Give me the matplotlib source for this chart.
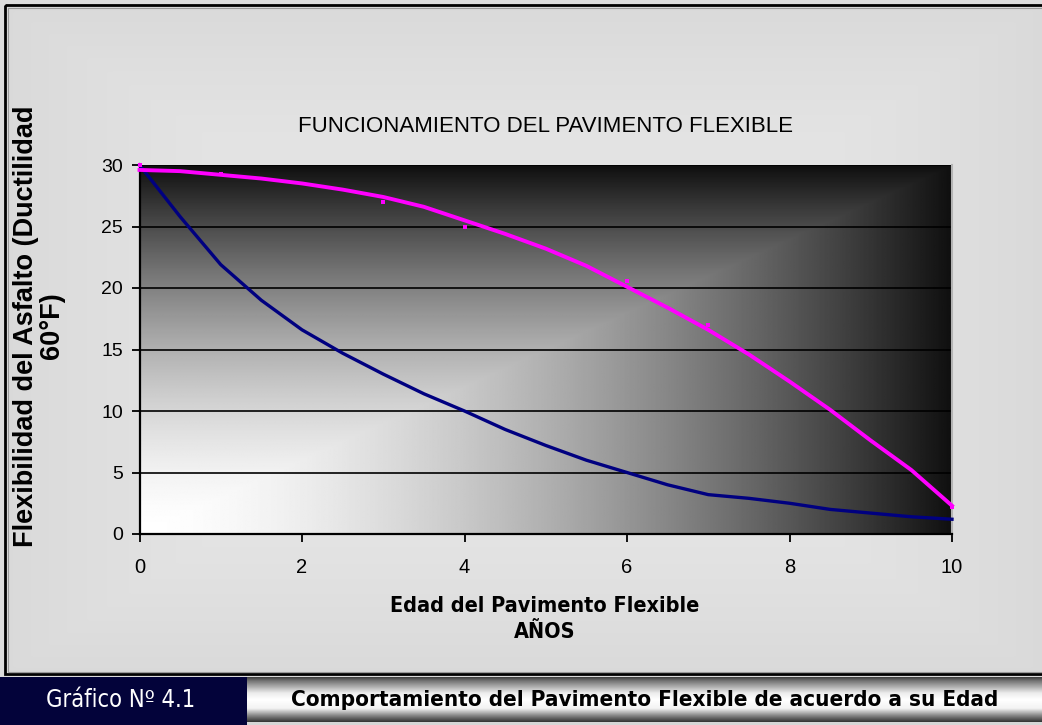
import numpy as np
import matplotlib
matplotlib.use("Agg")
import matplotlib.pyplot as plt
from matplotlib.patches import Rectangle

# ---- data -------------------------------------------------------------
years = [0, 0.5, 1, 1.5, 2, 2.5, 3, 3.5, 4, 4.5, 5, 5.5, 6, 6.5, 7, 7.5,
         8, 8.5, 9, 9.5, 10]
# blue series
ductility_a = [30.0, 25.8, 21.9, 19.0, 16.6, 14.7, 13.0, 11.4, 10.0, 8.5,
               7.2, 6.0, 5.0, 4.0, 3.2, 2.9, 2.5, 2.0, 1.7, 1.4, 1.2]
# magenta trend
ductility_b = [29.6, 29.5, 29.2, 28.9, 28.5, 28.0, 27.4, 26.6, 25.5, 24.4,
               23.2, 21.8, 20.1, 18.4, 16.6, 14.6, 12.4, 10.1, 7.6, 5.2, 2.3]
# magenta measured points
obs_years = [0, 1, 3, 4, 6, 7, 10]
obs_ductility = [30.0, 29.3, 27.0, 25.0, 20.6, 17.0, 2.2]

x_ticks = [0, 2, 4, 6, 8, 10]
y_ticks = [0, 5, 10, 15, 20, 25, 30]

title = "FUNCIONAMIENTO DEL PAVIMENTO FLEXIBLE"
y_label = "Flexibilidad del Asfalto (Ductilidad\n60°F)"
x_label = "Edad del Pavimento Flexible\nAÑOS"
caption_left = "Gráfico Nº 4.1"
caption_right = "Comportamiento del Pavimento Flexible de acuerdo a su Edad"

W, H = 1042, 725
fig = plt.figure(figsize=(W / 100, H / 100), dpi=100)
fig.patch.set_facecolor("#dcdcdc")

ARIAL = ["Liberation Sans", "DejaVu Sans"]

# ---- page layer in pixel coordinates ----------------------------------
bg = fig.add_axes([0, 0, 1, 1], zorder=0)
bg.set_xlim(0, W)
bg.set_ylim(H, 0)
bg.axis("off")

# soft panel shading inside the frame
gx = np.linspace(-1, 1, 300)
gy = np.linspace(-1, 1, 200)
GX, GY = np.meshgrid(gx, gy)
panel = 0.85 + 0.06 * (1 - np.maximum(np.abs(GX), np.abs(GY)) ** 2)
bg.imshow(panel, cmap="gray", vmin=0, vmax=1, extent=(5, W, 674, 5),
          aspect="auto", zorder=0, interpolation="bilinear")
bg.add_patch(Rectangle((5, 5), W + 10, 669, fill=False, ec="black",
                       lw=2.0, zorder=2))
bg.add_patch(Rectangle((7.5, 7.5), W + 10, 664, fill=False, ec="#9a9a9a",
                       lw=0.8, zorder=2))

# caption banner
bg.add_patch(Rectangle((0, 677), 247, H - 677, fc="#03033a", ec="none",
                       zorder=2))
rows = np.linspace(0, 1, 100)
profile = np.interp(rows, [0, 0.08, 0.35, 0.5, 0.7, 0.85, 1.0],
                    [0.25, 0.45, 0.92, 1.0, 0.95, 0.55, 0.2])
bar = np.tile(profile[:, None], (1, 10))
bg.imshow(bar, cmap="gray", vmin=0, vmax=1, extent=(247, W, 722, 677),
          aspect="auto", zorder=2, interpolation="bilinear")
bg.add_patch(Rectangle((247, 722), W, 3, fc="#d6d6d6", ec="none", zorder=2))
bg.text(121, 700, caption_left, color="white", fontsize=17,
        family="DejaVu Sans", fontstretch="condensed",
        ha="center", va="center", zorder=3)
bg.text(645, 700, caption_right, color="black", fontsize=16.1,
        family="DejaVu Sans", fontstretch="condensed", fontweight="bold",
        ha="center", va="center", zorder=3)

# ---- chart ------------------------------------------------------------
x0, x1, ytop, ybot = 139.5, 952.0, 165.0, 534.0
ax = fig.add_axes([x0 / W, 1 - ybot / H, (x1 - x0) / W, (ybot - ytop) / H],
                  zorder=1)
ax.set_facecolor("none")
ax.set_xlim(0, 10)
ax.set_ylim(0, 30)

# corner gradient: white at lower left, near black towards the other sides
u = np.linspace(0, 1, 500)
v = np.linspace(1, 0, 300)
U, V = np.meshgrid(u, v)
m = np.maximum(U, V)
shade = 0.06 + 0.94 * (1 - m ** 1.6)
ax.imshow(shade, cmap="gray", vmin=0, vmax=1, extent=(0, 10, 0, 30),
          aspect="auto", zorder=0, interpolation="bilinear")

for yv in y_ticks[1:]:
    ax.axhline(yv, color="black", lw=1.2, zorder=1)

ax.plot(years, ductility_a, color="#000080", lw=2.4, zorder=3,
        clip_on=False, solid_joinstyle="round")
ax.plot(years, ductility_b, color="#ff00ff", lw=2.8, zorder=4,
        clip_on=False, solid_joinstyle="round")
ax.scatter(obs_years, obs_ductility, marker="s", s=9, color="#ff00ff",
           zorder=5, clip_on=False, linewidths=0)

ax.set_xticks(x_ticks)
ax.set_yticks(y_ticks)
ax.tick_params(axis="both", direction="out", length=6, width=1.3,
               color="black", labelcolor="black")
ax.tick_params(axis="y", labelsize=14, pad=6)
ax.tick_params(axis="x", labelsize=14.5, pad=11)
for lab in ax.get_xticklabels() + ax.get_yticklabels():
    lab.set_family(ARIAL)

ax.spines["left"].set_color("black")
ax.spines["left"].set_linewidth(1.6)
ax.spines["bottom"].set_color("black")
ax.spines["bottom"].set_linewidth(1.6)
ax.spines["top"].set_visible(False)
ax.spines["right"].set_color("#b4b4b4")
ax.spines["right"].set_linewidth(1.5)

fig.text(545 / W, 1 - 126 / H, title, fontsize=16, family=ARIAL,
         ha="center", va="center")
fig.text(39 / W, 1 - 326 / H, y_label, fontsize=19.5, family=ARIAL,
         fontweight="bold", rotation=90, ha="center", va="center",
         linespacing=1.02, multialignment="center")
fig.text(545 / W, 1 - 619 / H, x_label, fontsize=15.5, family="DejaVu Sans",
         fontstretch="condensed", fontweight="bold", ha="center",
         va="center", linespacing=1.35, multialignment="center")

fig.savefig("out.png", dpi=100, facecolor=fig.get_facecolor())
